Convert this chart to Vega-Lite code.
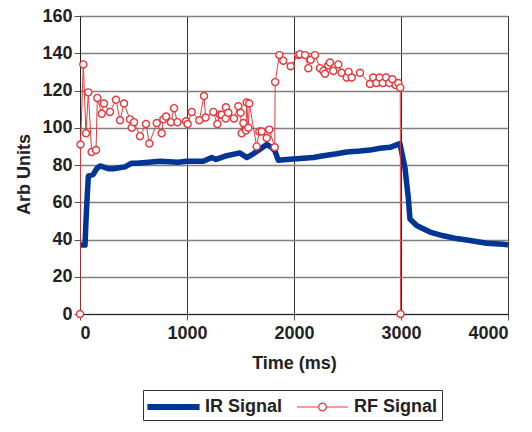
{
  "$schema": "https://vega.github.io/schema/vega-lite/v6.json",
  "width": 428,
  "height": 298,
  "autosize": {"type": "none"},
  "padding": {"left": 80, "top": 16, "right": 24, "bottom": 118},
  "background": "white",
  "config": {
    "font": "Liberation Sans",
    "view": {"stroke": "#222222", "strokeWidth": 1},
    "axis": {
      "labelFont": "Liberation Sans", "labelFontSize": 18, "labelFontWeight": "bold", "labelColor": "#222222",
      "titleFont": "Liberation Sans", "titleFontSize": 18, "titleFontWeight": "bold", "titleColor": "#222222",
      "domainColor": "#222222", "tickColor": "#555555", "tickSize": 6, "labelOverlap": false
    },
    "legend": {
      "padding": 4, "strokeColor": "#333333", "strokeWidth": 1, "fillColor": "white",
      "labelFont": "Liberation Sans", "labelFontSize": 18, "labelFontWeight": "bold", "labelColor": "#222222",
      "symbolSize": 2600, "symbolType": "stroke", "symbolStrokeWidth": 1.2,
      "columnPadding": 11, "labelOffset": 5
    }
  },
  "datasets": {
    "sig": [
      {"s": "IR Signal", "t": 0, "v": 37},
      {"s": "IR Signal", "t": 47, "v": 37},
      {"s": "IR Signal", "t": 56, "v": 50},
      {"s": "IR Signal", "t": 68, "v": 64},
      {"s": "IR Signal", "t": 78, "v": 74},
      {"s": "IR Signal", "t": 124, "v": 75},
      {"s": "IR Signal", "t": 156, "v": 78},
      {"s": "IR Signal", "t": 187, "v": 79.5},
      {"s": "IR Signal", "t": 265, "v": 78},
      {"s": "IR Signal", "t": 311, "v": 78},
      {"s": "IR Signal", "t": 421, "v": 79},
      {"s": "IR Signal", "t": 483, "v": 81},
      {"s": "IR Signal", "t": 530, "v": 81},
      {"s": "IR Signal", "t": 748, "v": 82},
      {"s": "IR Signal", "t": 916, "v": 81.5},
      {"s": "IR Signal", "t": 997, "v": 82},
      {"s": "IR Signal", "t": 1152, "v": 82},
      {"s": "IR Signal", "t": 1231, "v": 84},
      {"s": "IR Signal", "t": 1271, "v": 83},
      {"s": "IR Signal", "t": 1371, "v": 85},
      {"s": "IR Signal", "t": 1495, "v": 86.5},
      {"s": "IR Signal", "t": 1558, "v": 84},
      {"s": "IR Signal", "t": 1620, "v": 86},
      {"s": "IR Signal", "t": 1682, "v": 88.5},
      {"s": "IR Signal", "t": 1745, "v": 91},
      {"s": "IR Signal", "t": 1791, "v": 89.5},
      {"s": "IR Signal", "t": 1822, "v": 87.5},
      {"s": "IR Signal", "t": 1854, "v": 82.5},
      {"s": "IR Signal", "t": 1932, "v": 83},
      {"s": "IR Signal", "t": 2181, "v": 84},
      {"s": "IR Signal", "t": 2274, "v": 85},
      {"s": "IR Signal", "t": 2399, "v": 86},
      {"s": "IR Signal", "t": 2492, "v": 87},
      {"s": "IR Signal", "t": 2617, "v": 87.5},
      {"s": "IR Signal", "t": 2710, "v": 88},
      {"s": "IR Signal", "t": 2804, "v": 89},
      {"s": "IR Signal", "t": 2897, "v": 89.5},
      {"s": "IR Signal", "t": 2990, "v": 91.5},
      {"s": "IR Signal", "t": 3037, "v": 78.5},
      {"s": "IR Signal", "t": 3068, "v": 62.5},
      {"s": "IR Signal", "t": 3084, "v": 51},
      {"s": "IR Signal", "t": 3146, "v": 47.5},
      {"s": "IR Signal", "t": 3271, "v": 44},
      {"s": "IR Signal", "t": 3396, "v": 42},
      {"s": "IR Signal", "t": 3520, "v": 40.5},
      {"s": "IR Signal", "t": 3645, "v": 39.5},
      {"s": "IR Signal", "t": 3801, "v": 38},
      {"s": "IR Signal", "t": 3956, "v": 37.5},
      {"s": "IR Signal", "t": 4000, "v": 37},
      {"s": "RF Signal", "t": 0, "v": 0},
      {"s": "RF Signal", "t": 5, "v": 91},
      {"s": "RF Signal", "t": 31, "v": 134},
      {"s": "RF Signal", "t": 56, "v": 97},
      {"s": "RF Signal", "t": 78, "v": 119},
      {"s": "RF Signal", "t": 109, "v": 87},
      {"s": "RF Signal", "t": 150, "v": 88},
      {"s": "RF Signal", "t": 162, "v": 116},
      {"s": "RF Signal", "t": 203, "v": 107.5},
      {"s": "RF Signal", "t": 224, "v": 113},
      {"s": "RF Signal", "t": 280, "v": 108.5},
      {"s": "RF Signal", "t": 336, "v": 115},
      {"s": "RF Signal", "t": 374, "v": 104},
      {"s": "RF Signal", "t": 411, "v": 113},
      {"s": "RF Signal", "t": 467, "v": 104.5},
      {"s": "RF Signal", "t": 483, "v": 100},
      {"s": "RF Signal", "t": 505, "v": 103},
      {"s": "RF Signal", "t": 561, "v": 95.5},
      {"s": "RF Signal", "t": 617, "v": 102},
      {"s": "RF Signal", "t": 648, "v": 91.5},
      {"s": "RF Signal", "t": 717, "v": 102.5},
      {"s": "RF Signal", "t": 763, "v": 97},
      {"s": "RF Signal", "t": 779, "v": 104.5},
      {"s": "RF Signal", "t": 804, "v": 106},
      {"s": "RF Signal", "t": 850, "v": 103},
      {"s": "RF Signal", "t": 879, "v": 110.5},
      {"s": "RF Signal", "t": 910, "v": 103},
      {"s": "RF Signal", "t": 991, "v": 103.5},
      {"s": "RF Signal", "t": 1006, "v": 102},
      {"s": "RF Signal", "t": 1044, "v": 108.5},
      {"s": "RF Signal", "t": 1115, "v": 104},
      {"s": "RF Signal", "t": 1159, "v": 117},
      {"s": "RF Signal", "t": 1174, "v": 105.5},
      {"s": "RF Signal", "t": 1246, "v": 108.5},
      {"s": "RF Signal", "t": 1284, "v": 102},
      {"s": "RF Signal", "t": 1308, "v": 107},
      {"s": "RF Signal", "t": 1324, "v": 107},
      {"s": "RF Signal", "t": 1361, "v": 105},
      {"s": "RF Signal", "t": 1364, "v": 111},
      {"s": "RF Signal", "t": 1386, "v": 108},
      {"s": "RF Signal", "t": 1439, "v": 105},
      {"s": "RF Signal", "t": 1480, "v": 111.5},
      {"s": "RF Signal", "t": 1501, "v": 108},
      {"s": "RF Signal", "t": 1511, "v": 97},
      {"s": "RF Signal", "t": 1527, "v": 102.5},
      {"s": "RF Signal", "t": 1551, "v": 98.5},
      {"s": "RF Signal", "t": 1558, "v": 113.5},
      {"s": "RF Signal", "t": 1573, "v": 100},
      {"s": "RF Signal", "t": 1582, "v": 113},
      {"s": "RF Signal", "t": 1651, "v": 90},
      {"s": "RF Signal", "t": 1676, "v": 98},
      {"s": "RF Signal", "t": 1698, "v": 98},
      {"s": "RF Signal", "t": 1745, "v": 94.5},
      {"s": "RF Signal", "t": 1769, "v": 99},
      {"s": "RF Signal", "t": 1820, "v": 89.5},
      {"s": "RF Signal", "t": 1824, "v": 124.5},
      {"s": "RF Signal", "t": 1863, "v": 139},
      {"s": "RF Signal", "t": 1900, "v": 136},
      {"s": "RF Signal", "t": 1969, "v": 133},
      {"s": "RF Signal", "t": 2040, "v": 139},
      {"s": "RF Signal", "t": 2056, "v": 139.5},
      {"s": "RF Signal", "t": 2103, "v": 139},
      {"s": "RF Signal", "t": 2134, "v": 132},
      {"s": "RF Signal", "t": 2156, "v": 136.5},
      {"s": "RF Signal", "t": 2196, "v": 139},
      {"s": "RF Signal", "t": 2243, "v": 132},
      {"s": "RF Signal", "t": 2274, "v": 130.5},
      {"s": "RF Signal", "t": 2290, "v": 129},
      {"s": "RF Signal", "t": 2320, "v": 133.5},
      {"s": "RF Signal", "t": 2336, "v": 135},
      {"s": "RF Signal", "t": 2367, "v": 130.5},
      {"s": "RF Signal", "t": 2414, "v": 134},
      {"s": "RF Signal", "t": 2445, "v": 129.5},
      {"s": "RF Signal", "t": 2492, "v": 127},
      {"s": "RF Signal", "t": 2510, "v": 130},
      {"s": "RF Signal", "t": 2539, "v": 127},
      {"s": "RF Signal", "t": 2617, "v": 129.5},
      {"s": "RF Signal", "t": 2710, "v": 123.5},
      {"s": "RF Signal", "t": 2741, "v": 127},
      {"s": "RF Signal", "t": 2770, "v": 124},
      {"s": "RF Signal", "t": 2800, "v": 127},
      {"s": "RF Signal", "t": 2830, "v": 124},
      {"s": "RF Signal", "t": 2860, "v": 127},
      {"s": "RF Signal", "t": 2890, "v": 124},
      {"s": "RF Signal", "t": 2920, "v": 126},
      {"s": "RF Signal", "t": 2950, "v": 123},
      {"s": "RF Signal", "t": 2975, "v": 124},
      {"s": "RF Signal", "t": 2993, "v": 121.5},
      {"s": "RF Signal", "t": 2996, "v": 0}
    ]
  },
  "data": {"name": "sig"},
  "encoding": {
    "x": {
      "field": "t", "type": "quantitative",
      "scale": {"domain": [0, 4000], "nice": false},
      "axis": {
        "title": "Time (ms)", "values": [0, 1000, 2000, 3000, 4000], "format": "d",
        "grid": true, "gridColor": "#333333", "gridWidth": 1,
        "labelPadding": 4, "titlePadding": 12
      }
    },
    "y": {
      "field": "v", "type": "quantitative",
      "scale": {"domain": [0, 160], "nice": false},
      "axis": {
        "title": "Arb Units", "values": [0, 20, 40, 60, 80, 100, 120, 140, 160], "format": "d",
        "grid": true, "gridColor": "#808080", "gridWidth": 1.6,
        "labelPadding": 2, "titlePadding": 8, "titleY": 158
      }
    }
  },
  "layer": [
    {
      "mark": {"type": "line", "clip": true, "strokeJoin": "round"},
      "encoding": {
        "color": {
          "field": "s", "type": "nominal",
          "scale": {"domain": ["IR Signal", "RF Signal"], "range": ["#003594", "#e8383d"]},
          "legend": {
            "title": null, "orient": "none", "legendX": 63, "legendY": 374, "direction": "horizontal",
            "encoding": {
              "symbols": {
                "shape": {"condition": {"test": "datum.value === 'RF Signal'", "value": "M-1,0H-0.15M0.15,0H1M-0.15,0A0.15,0.15,0,1,1,0.15,0A0.15,0.15,0,1,1,-0.15,0Z"}, "value": "M-1,-0.09H1V0.09H-1Z"},
                "fill": {"condition": {"test": "datum.value === 'RF Signal'", "value": "white"}, "value": "#003594"},
                "stroke": {"condition": {"test": "datum.value === 'RF Signal'", "value": "#e8383d"}, "value": "#003594"},
                "y": {"value": 13}
              },
              "labels": {"y": {"value": 13}}
            }
          }
        },
        "strokeWidth": {"condition": {"test": "datum.s === 'IR Signal'", "value": 5.5}, "value": 1}
      }
    },
    {
      "transform": [{"filter": "datum.s === 'RF Signal'"}],
      "mark": {"type": "point", "shape": "circle", "filled": true, "fill": "white", "stroke": "#e8383d", "strokeWidth": 1.4, "size": 50, "opacity": 1, "clip": false}
    }
  ]
}
